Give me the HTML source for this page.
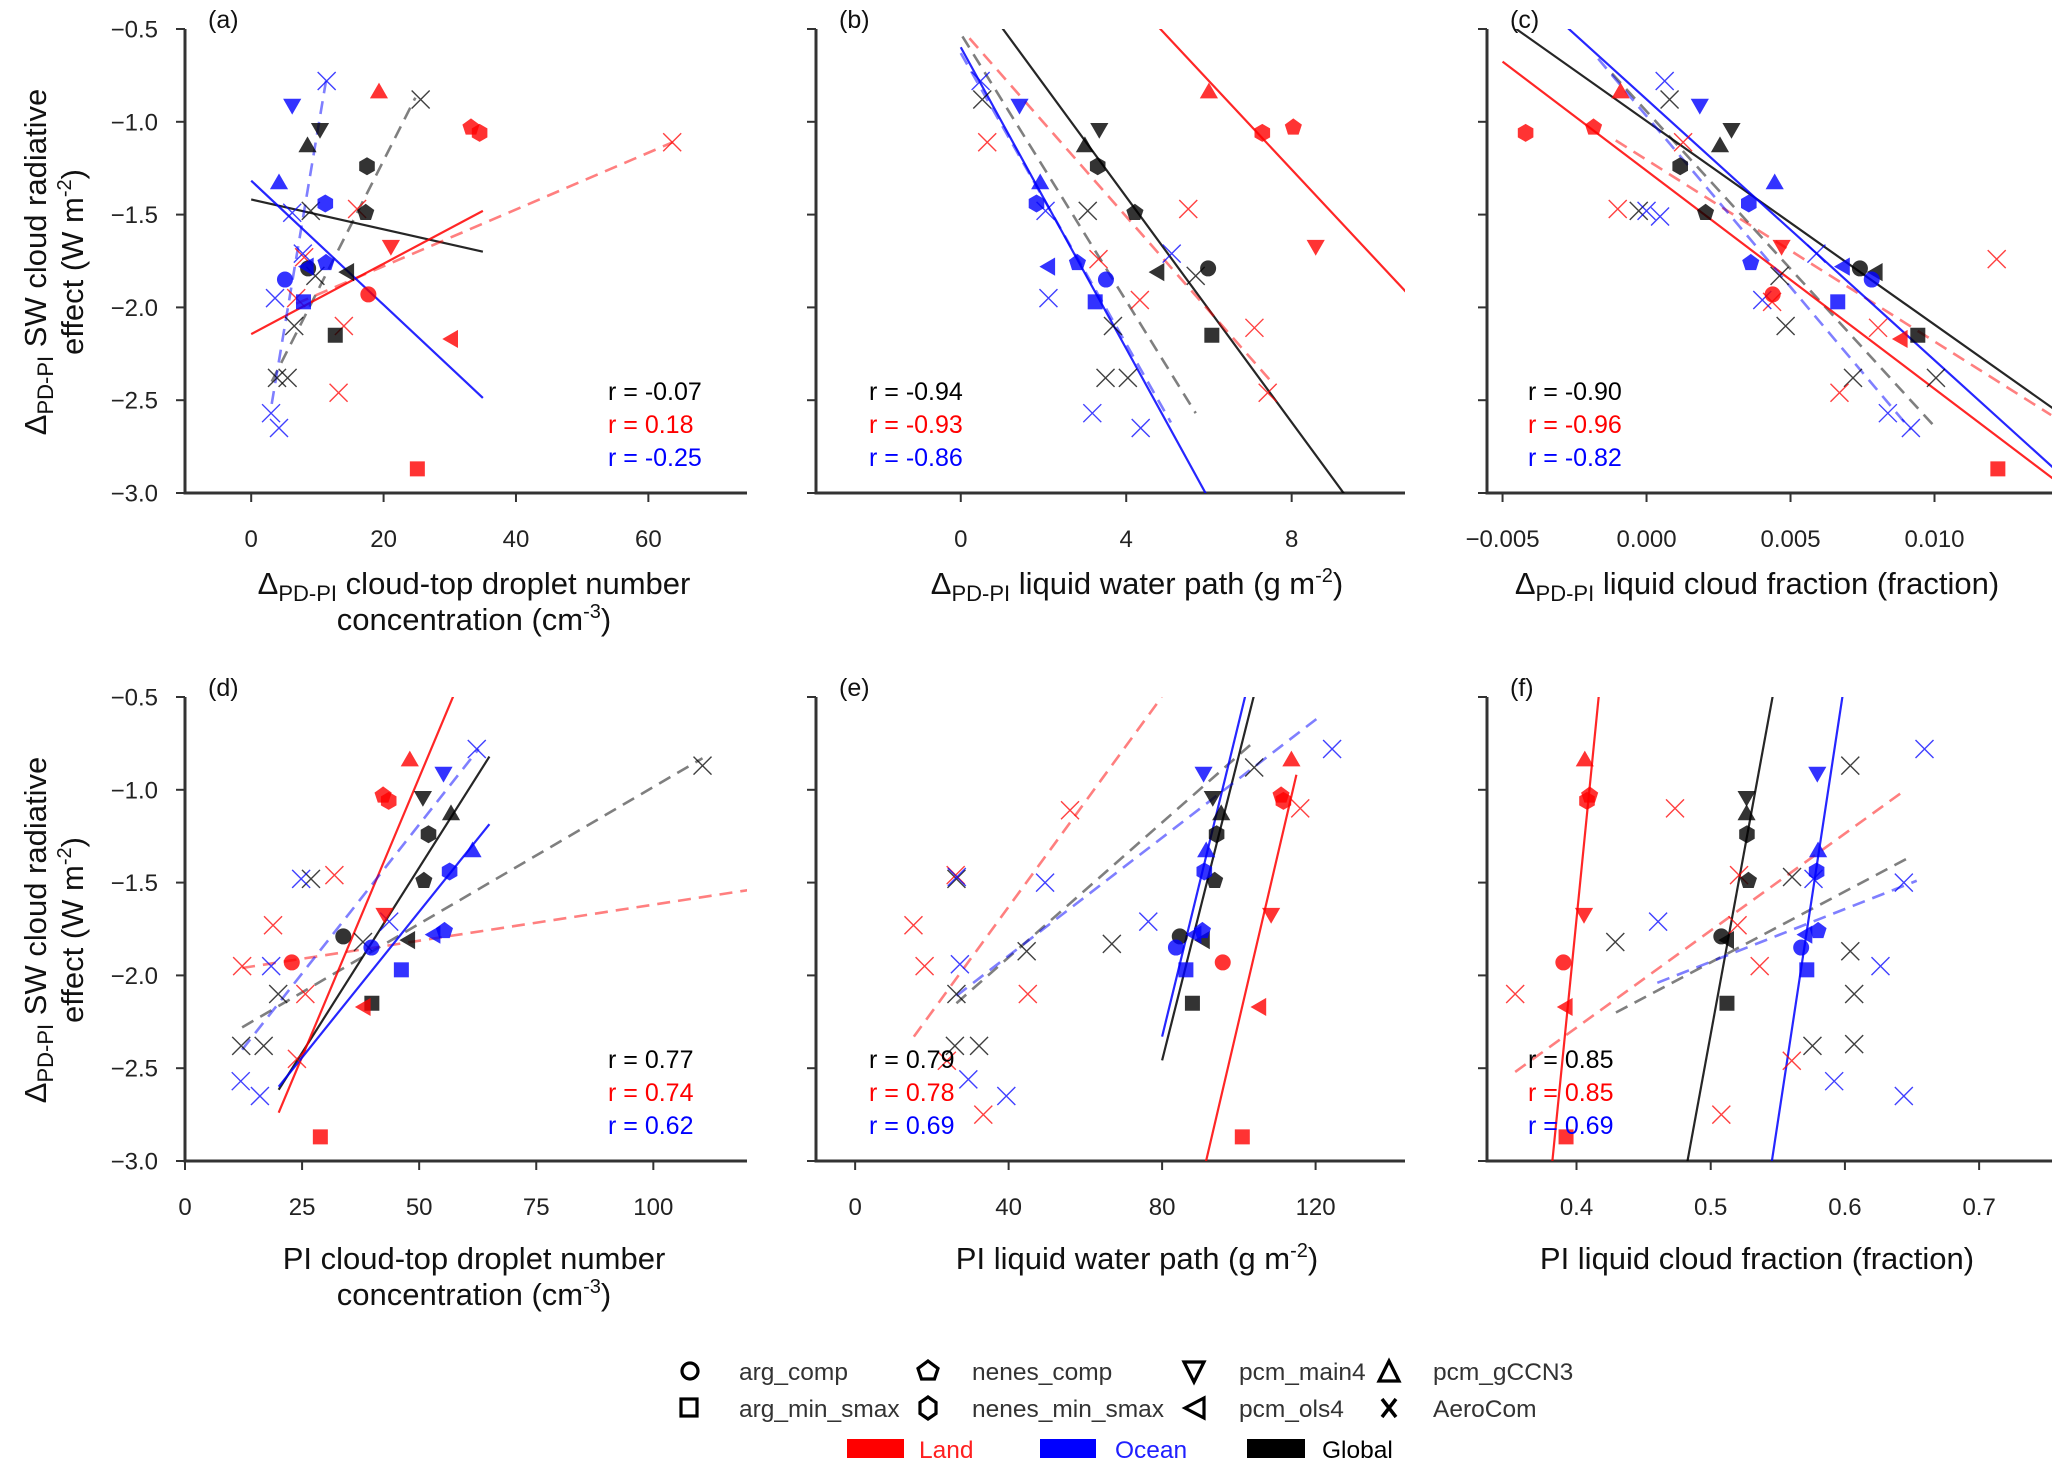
<!DOCTYPE html>
<html><head><meta charset="utf-8"><title>SW cloud radiative effect scatter panels</title>
<style>
html,body{margin:0;padding:0;background:#fff;overflow:hidden;width:2067px;height:1474px;}
svg{display:block;font-family:"Liberation Sans",Arial,sans-serif;}
</style></head>
<body>
<svg id="fig" xmlns="http://www.w3.org/2000/svg" width="2067" height="1474" viewBox="0 0 2067 1474"></svg>
<script>
// ---- shared data ----
const modelNames = ['arg_comp','arg_min_smax','nenes_comp','nenes_min_smax','pcm_main4','pcm_ols4','pcm_gCCN3'];
const modelShapes = ['circle','square','pentagon','hexagon','tridown','trileft','triup'];
const yGlobal = [-1.79,-2.15,-1.49,-1.24,-1.04,-1.81,-1.13];
const yLand   = [-1.93,-2.87,-1.03,-1.06,-1.67,-2.17,-0.84];
const yOcean  = [-1.85,-1.97,-1.76,-1.44,-0.91,-1.78,-1.33];

// panel a
const aGx = [8.6,12.7,17.3,17.5,10.4,14.6,8.5];
const aLx = [17.7,25.1,33.2,34.5,21.1,30.3,19.3];
const aOx = [5.1,7.9,11.3,11.2,6.2,8.5,4.2];
const aAeroGx = [25.6,9.0,9.7,6.5,3.9,5.5];
const aAeroGy = [-0.88,-1.48,-1.83,-2.1,-2.38,-2.38];
const aAeroLx = [63.6,16,8,6.8,14,13.2];
const aAeroLy = [-1.11,-1.47,-1.73,-1.95,-2.1,-2.46];
const aAeroOx = [11.4,6.2,7.8,3.6,3.0,4.2];
const aAeroOy = [-0.78,-1.49,-1.71,-1.95,-2.57,-2.65];
// AeroCom fit-line endpoints [x0,y0,x1,y1]
const aFitG = [3.1,-2.4,24.8,-0.87];
const aFitL = [6.8,-1.98,63.7,-1.11];
const aFitO = [3.1,-2.52,11.3,-0.78];
// panel b
const bGx = [5.98,6.07,4.21,3.31,3.35,4.77,3.0];
const bLx = [11.2,14.5,8.04,7.29,8.58,12.0,6.0];
const bOx = [3.51,3.25,2.82,1.83,1.42,2.13,1.92];
const bAeroGx = [0.52,3.07,5.68,3.68,3.5,4.04];
const bAeroGy = [-0.88,-1.48,-1.83,-2.1,-2.38,-2.38];
const bAeroLx = [0.64,5.5,3.33,4.33,7.1,7.42];
const bAeroLy = [-1.11,-1.47,-1.74,-1.96,-2.11,-2.46];
const bAeroOx = [0.48,2.05,5.1,2.12,3.18,4.35];
const bAeroOy = [-0.78,-1.48,-1.71,-1.95,-2.57,-2.65];
const bFitG = [0.04,-0.54,5.68,-2.57];
const bFitL = [0.21,-0.55,7.47,-2.39];
const bFitO = [0.0,-0.63,5.08,-2.62];
// panel c
const cGx = [0.00741,0.00942,0.00205,0.00117,0.00295,0.00798,0.00255];
const cLx = [0.00438,0.0122,-0.00184,-0.0042,0.00469,0.00885,-0.0009];
const cOx = [0.00782,0.00664,0.00362,0.00355,0.00185,0.00684,0.00445];
const cAeroGx = [0.0008,-0.00027,0.00462,0.00483,0.00717,0.01005];
const cAeroGy = [-0.88,-1.48,-1.83,-2.1,-2.38,-2.38];
const cAeroLx = [0.00127,-0.001,0.01216,0.00436,0.00804,0.0067];
const cAeroLy = [-1.11,-1.47,-1.74,-1.97,-2.11,-2.46];
const cAeroOx = [0.00063,0.0,0.00047,0.0059,0.00402,0.00838,0.00918];
const cAeroOy = [-0.78,-1.48,-1.51,-1.71,-1.96,-2.57,-2.65];
const cFitG = [-0.0012,-0.74,0.01005,-2.65];
const cFitL = [-0.00107,-1.10,0.01405,-2.58];
const cFitO = [-0.00168,-0.66,0.00918,-2.66];
// panel d
const dGx = [33.8,39.9,51,52,50.8,47.8,56.8];
const dLx = [22.8,28.9,42.3,43.5,42.6,38.3,48];
const dOx = [39.8,46.2,55.4,56.5,55.2,53.2,61.4];
const dAeroGx = [110.5,26.9,38,19.9,12,16.8];
const dAeroGy = [-0.87,-1.48,-1.82,-2.1,-2.38,-2.38];
const dAeroLx = [140,31.9,18.8,12.2,25.7,23.9];
const dAeroLy = [-1.11,-1.46,-1.73,-1.95,-2.1,-2.45];
const dAeroOx = [62.3,24.8,43.6,18.4,11.9,16];
const dAeroOy = [-0.78,-1.48,-1.71,-1.95,-2.57,-2.65];
const dFitG = [12.2,-2.28,110.5,-0.83];
const dFitL = [12.2,-1.96,122.9,-1.53];
const dFitO = [12.2,-2.40,62.7,-0.78];
// panel e
const eGx = [84.6,87.9,93.7,94.2,93.2,90.8,95.4];
const eLx = [95.8,100.9,111,111.6,108.4,105.5,113.7];
const eOx = [83.6,86.2,90.5,91,90.8,88.6,91.5];
const eAeroGx = [104,26.4,66.9,44.7,26.4,26,32.3];
const eAeroGy = [-0.88,-1.48,-1.83,-1.87,-2.1,-2.38,-2.38];
const eAeroLx = [116,56,26.2,15.2,18.1,45,23.9,33.4];
const eAeroLy = [-1.1,-1.11,-1.46,-1.73,-1.95,-2.1,-2.46,-2.75];
const eAeroOx = [124.3,26.5,49.5,76.4,27.3,29.5,39.4];
const eAeroOy = [-0.78,-1.47,-1.5,-1.71,-1.94,-2.56,-2.65];
const eFitG = [26.4,-2.15,104,-0.74];
const eFitL = [15.3,-2.33,79.9,-0.5];
const eFitO = [26.4,-2.11,121.4,-0.60];
// panel f
const fGx = [0.5079,0.5121,0.5281,0.527,0.5267,0.5127,0.5267];
const fLx = [0.3902,0.3922,0.4098,0.4078,0.4056,0.3924,0.4062];
const fOx = [0.5674,0.5716,0.58,0.5789,0.5794,0.571,0.58];
const fAeroGx = [0.604,0.5606,0.4289,0.604,0.6069,0.5758,0.6069];
const fAeroGy = [-0.87,-1.47,-1.82,-1.87,-2.1,-2.38,-2.37];
const fAeroLx = [0.4734,0.5211,0.52,0.5365,0.3543,0.5604,0.5079];
const fAeroLy = [-1.1,-1.46,-1.73,-1.95,-2.1,-2.46,-2.75];
const fAeroOx = [0.6593,0.5766,0.6439,0.4608,0.6265,0.592,0.6439];
const fAeroOy = [-0.78,-1.48,-1.5,-1.71,-1.95,-2.57,-2.65];
const fFitG = [0.4294,-2.20,0.6465,-1.37];
const fFitL = [0.3543,-2.52,0.6451,-1.0];
const fFitO = [0.4602,-2.04,0.6535,-1.49];

// tick labels & r labels
const yTicks = [-0.5,-1.0,-1.5,-2.0,-2.5,-3.0];
const yTickLabels = ['\u22120.5','\u22121.0','\u22121.5','\u22122.0','\u22122.5','\u22123.0'];
const aTicks = [0,20,40,60];       const aTickLabels = ['0','20','40','60'];
const bTicks = [0,4,8];            const bTickLabels = ['0','4','8'];
const cTicks = [-0.005,0,0.005,0.010]; const cTickLabels = ['\u22120.005','0.000','0.005','0.010'];
const dTicks = [0,25,50,75,100];   const dTickLabels = ['0','25','50','75','100'];
const eTicks = [0,40,80,120];      const eTickLabels = ['0','40','80','120'];
const fTicks = [0.4,0.5,0.6,0.7];  const fTickLabels = ['0.4','0.5','0.6','0.7'];
const aR = ['r = -0.07','r = 0.18','r = -0.25'];
const bR = ['r = -0.94','r = -0.93','r = -0.86'];
const cR = ['r = -0.90','r = -0.96','r = -0.82'];
const dR = ['r = 0.77','r = 0.74','r = 0.62'];
const eR = ['r = 0.79','r = 0.78','r = 0.69'];
const fR = ['r = 0.85','r = 0.85','r = 0.69'];

// ---- layout (pixels, not data) ----
const NS = 'http://www.w3.org/2000/svg';
const svg = document.getElementById('fig');
const COL = {G:'#000000', L:'#ff0000', O:'#0000ff'};
const panels = [
 {id:'a', L:185, R:747, T:29, B:493, xmin:-10, xmax:74.9, step:5,
  G:aGx,Lx:aLx,O:aOx, aG:[aAeroGx,aAeroGy], aL:[aAeroLx,aAeroLy], aO:[aAeroOx,aAeroOy], fit:{G:aFitG,L:aFitL,O:aFitO}, ticks:aTicks, tl:aTickLabels, r:aR, rx:608},
 {id:'b', L:816, R:1405, T:29, B:493, xmin:-3.5, xmax:10.74, step:2,
  G:bGx,Lx:bLx,O:bOx, aG:[bAeroGx,bAeroGy], aL:[bAeroLx,bAeroLy], aO:[bAeroOx,bAeroOy], fit:{G:bFitG,L:bFitL,O:bFitO}, ticks:bTicks, tl:bTickLabels, r:bR, rx:869},
 {id:'c', L:1487, R:2052, T:29, B:493, xmin:-0.00554, xmax:0.01408, step:0.005,
  G:cGx,Lx:cLx,O:cOx, aG:[cAeroGx,cAeroGy], aL:[cAeroLx,cAeroLy], aO:[cAeroOx,cAeroOy], fit:{G:cFitG,L:cFitL,O:cFitO}, ticks:cTicks, tl:cTickLabels, r:cR, rx:1528},
 {id:'d', L:185, R:747, T:697, B:1161, xmin:0, xmax:120, step:5,
  G:dGx,Lx:dLx,O:dOx, aG:[dAeroGx,dAeroGy], aL:[dAeroLx,dAeroLy], aO:[dAeroOx,dAeroOy], fit:{G:dFitG,L:dFitL,O:dFitO}, ticks:dTicks, tl:dTickLabels, r:dR, rx:608},
 {id:'e', L:816, R:1405, T:697, B:1161, xmin:-10.2, xmax:143.3, step:5,
  G:eGx,Lx:eLx,O:eOx, aG:[eAeroGx,eAeroGy], aL:[eAeroLx,eAeroLy], aO:[eAeroOx,eAeroOy], fit:{G:eFitG,L:eFitL,O:eFitO}, ticks:eTicks, tl:eTickLabels, r:eR, rx:869},
 {id:'f', L:1487, R:2052, T:697, B:1161, xmin:0.3333, xmax:0.7543, step:0.05,
  G:fGx,Lx:fLx,O:fOx, aG:[fAeroGx,fAeroGy], aL:[fAeroLx,fAeroLy], aO:[fAeroOx,fAeroOy], fit:{G:fFitG,L:fFitL,O:fFitO}, ticks:fTicks, tl:fTickLabels, r:fR, rx:1528}
];
const YMIN=-3.0, YMAX=-0.5;

function mk(tag, attrs, parent){
  const e=document.createElementNS(NS,tag);
  for(const k in attrs) e.setAttribute(k,attrs[k]);
  (parent||svg).appendChild(e); return e;
}
function polyPts(cx,cy,r,n,rot){
  const p=[]; for(let i=0;i<n;i++){const a=rot+i*2*Math.PI/n; p.push((cx+r*Math.cos(a)).toFixed(1)+','+(cy+r*Math.sin(a)).toFixed(1));} return p.join(' ');
}
function marker(shape,cx,cy,fill,parent){
  let e;
  const st = {fill:fill, stroke:'none'};
  if(shape==='circle') e=mk('circle',Object.assign({cx:cx,cy:cy,r:8},st),parent);
  else if(shape==='square') e=mk('rect',Object.assign({x:cx-7.5,y:cy-7.5,width:15,height:15},st),parent);
  else if(shape==='pentagon') e=mk('polygon',Object.assign({points:polyPts(cx,cy,9,5,-Math.PI/2)},st),parent);
  else if(shape==='hexagon') e=mk('polygon',Object.assign({points:polyPts(cx,cy,9,6,-Math.PI/2)},st),parent);
  else if(shape==='tridown') e=mk('polygon',Object.assign({points:polyPts(cx,cy-1,10.5,3,Math.PI/2)},st),parent);
  else if(shape==='triup') e=mk('polygon',Object.assign({points:polyPts(cx,cy+1,10.5,3,-Math.PI/2)},st),parent);
  else if(shape==='trileft') e=mk('polygon',Object.assign({points:polyPts(cx+1,cy,10.5,3,Math.PI)},st),parent);
  return e;
}
function ols(xs,ys){
  const n=xs.length; let mx=0,my=0; for(let i=0;i<n;i++){mx+=xs[i];my+=ys[i];} mx/=n; my/=n;
  let sxy=0,sxx=0; for(let i=0;i<n;i++){sxy+=(xs[i]-mx)*(ys[i]-my); sxx+=(xs[i]-mx)*(xs[i]-mx);}
  const b=sxy/sxx; return {b:b,a:my-b*mx};
}
function txt(s,x,y,attrs,parent){const e=mk('text',Object.assign({x:x,y:y,'font-size':24,fill:'#222'},attrs||{}),parent); e.textContent=s; return e;}

const defs=mk('defs',{});
panels.forEach(P=>{
  const sx=v=>P.L+(v-P.xmin)/(P.xmax-P.xmin)*(P.R-P.L);
  const sy=v=>P.B-(v-YMIN)/(YMAX-YMIN)*(P.B-P.T);
  const g=mk('g',{});
  
  
  const cp=mk('clipPath',{id:'clip-'+P.id},defs);
  mk('rect',{x:P.L,y:P.T,width:P.R-P.L,height:P.B-P.T},cp);
  const ax=mk('g',{},g);
  
  
  mk('line',{x1:P.L,y1:P.T,x2:P.L,y2:P.B+1.5,stroke:'#333','stroke-width':3},ax);
  mk('line',{x1:P.L-1.5,y1:P.B,x2:P.R,y2:P.B,stroke:'#333','stroke-width':3},ax);
  yTicks.forEach((t,i)=>{
    mk('line',{x1:P.L-9,y1:sy(t),x2:P.L,y2:sy(t),stroke:'#333','stroke-width':2},ax);
    if(P.id==='a'||P.id==='d'){
      const tl=txt(yTickLabels[i],158,sy(t)+8.5,{'text-anchor':'end'},ax);
      
      
    }
  });
  P.ticks.forEach((t,i)=>{
    mk('line',{x1:sx(t),y1:P.B,x2:sx(t),y2:P.B+9,stroke:'#333','stroke-width':2},ax);
    const tl=txt(P.tl[i],sx(t),P.B+54,{'text-anchor':'middle'},ax);
    
    
  });
  const pl=txt('('+P.id+')',P.L+23,P.T-1,{'font-size':25,fill:'#111'},g);
  
  

  const plot=mk('g',{'clip-path':'url(#clip-'+P.id+')'},g);
  
  
  const regions=[['G',P.G,yGlobal,P.aG],['L',P.Lx,yLand,P.aL],['O',P.O,yOcean,P.aO]];
  regions.forEach(([k,xs,ys])=>{
    const f=ols(xs,ys);
    const all=[].concat(P.G,P.Lx,P.O);
    const lo=Math.floor(Math.min.apply(null,all)/P.step+1e-9)*P.step;
    const hi=Math.ceil(Math.max.apply(null,all)/P.step-1e-9)*P.step;
    const ln=mk('line',{x1:sx(lo),y1:sy(f.a+f.b*lo),x2:sx(hi),y2:sy(f.a+f.b*hi),stroke:COL[k],'stroke-width':2.2,'stroke-opacity':0.85},plot);
    
    
    const fd=P.fit[k];
    const dl=mk('line',{x1:sx(fd[0]),y1:sy(fd[1]),x2:sx(fd[2]),y2:sy(fd[3]),stroke:COL[k],'stroke-width':2.6,'stroke-opacity':0.5,'stroke-dasharray':'13,8'},plot);
    
    
  });
  regions.forEach(([k,xs,ys,aero])=>{
    aero[0].forEach((xv,i)=>{
      const cx=sx(xv), cy=sy(aero[1][i]), s=9;
      const xm=mk('path',{d:`M${cx-s},${cy-s}L${cx+s},${cy+s}M${cx-s},${cy+s}L${cx+s},${cy-s}`,stroke:COL[k],'stroke-width':1.4,'stroke-opacity':0.75,fill:'none'},plot);
      
      
    });
  });
  regions.forEach(([k,xs,ys])=>{
    xs.forEach((xv,i)=>{
      const m=marker(modelShapes[i],sx(xv),sy(ys[i]),COL[k],plot);
      m.setAttribute('fill-opacity',0.8);
      
      
    });
  });
  const rc=['#000','#ff0000','#0000ff'];
  P.r.forEach((s,i)=>{
    const t=txt(s,P.rx,P.T+371+i*33,{'font-size':25,fill:rc[i]},g);
    
    
  });
});

svg.insertAdjacentHTML('beforeend',`
<g font-size="31" fill="#111" text-anchor="middle">
 <text transform="translate(46,262) rotate(-90)">Δ<tspan font-size="22" dy="7">PD-PI</tspan><tspan dy="-7"> SW cloud radiative</tspan></text>
 <text transform="translate(83,262) rotate(-90)">effect (W m<tspan font-size="20" dy="-12">-2</tspan><tspan dy="12">)</tspan></text>
</g>
<g font-size="31" fill="#111" text-anchor="middle">
 <text transform="translate(46,930) rotate(-90)">Δ<tspan font-size="22" dy="7">PD-PI</tspan><tspan dy="-7"> SW cloud radiative</tspan></text>
 <text transform="translate(83,930) rotate(-90)">effect (W m<tspan font-size="20" dy="-12">-2</tspan><tspan dy="12">)</tspan></text>
</g>
<g font-size="31" fill="#111" text-anchor="middle">
 <text x="474" y="594">Δ<tspan font-size="22" dy="7">PD-PI</tspan><tspan dy="-7"> cloud-top droplet number</tspan></text>
 <text x="474" y="630">concentration (cm<tspan font-size="20" dy="-12">-3</tspan><tspan dy="12">)</tspan></text>
 <text x="1137" y="594">Δ<tspan font-size="22" dy="7">PD-PI</tspan><tspan dy="-7"> liquid water path (g m</tspan><tspan font-size="20" dy="-12">-2</tspan><tspan dy="12">)</tspan></text>
 <text x="1757" y="594">Δ<tspan font-size="22" dy="7">PD-PI</tspan><tspan dy="-7"> liquid cloud fraction (fraction)</tspan></text>
 <text x="474" y="1269">PI cloud-top droplet number</text>
 <text x="474" y="1305">concentration (cm<tspan font-size="20" dy="-12">-3</tspan><tspan dy="12">)</tspan></text>
 <text x="1137" y="1269">PI liquid water path (g m<tspan font-size="20" dy="-12">-2</tspan><tspan dy="12">)</tspan></text>
 <text x="1757" y="1269">PI liquid cloud fraction (fraction)</text>
</g>
<g font-size="24.5" fill="#333">
 <circle cx="690" cy="1371" r="8" fill="#fff" stroke="#000" stroke-width="3.2"/>
 <text x="739" y="1380">arg_comp</text>
 <polygon points="928,1361 938,1368.5 934.5,1379 921.5,1379 918,1368.5" fill="#fff" stroke="#000" stroke-width="3.2"/>
 <text x="972" y="1380">nenes_comp</text>
 <polygon points="1184,1362 1204,1362 1194,1382" fill="#fff" stroke="#000" stroke-width="3.2"/>
 <text x="1239" y="1380">pcm_main4</text>
 <polygon points="1379,1381 1399,1381 1389,1361" fill="#fff" stroke="#000" stroke-width="3.2"/>
 <text x="1433" y="1380">pcm_gCCN3</text>
 <rect x="681" y="1399" width="16" height="17" fill="#fff" stroke="#000" stroke-width="3.2"/>
 <text x="739" y="1417">arg_min_smax</text>
 <polygon points="928,1397 936,1402.5 936,1413.5 928,1419 920,1413.5 920,1402.5" fill="#fff" stroke="#000" stroke-width="3.2"/>
 <text x="972" y="1417">nenes_min_smax</text>
 <polygon points="1185,1408 1204,1398 1204,1418" fill="#fff" stroke="#000" stroke-width="3.2"/>
 <text x="1239" y="1417">pcm_ols4</text>
 <path d="M1382,1399L1396,1417M1382,1417L1396,1399" stroke="#000" stroke-width="3.5"/>
 <text x="1433" y="1417">AeroCom</text>
 <rect x="847" y="1439" width="57" height="19" fill="#ff0000"/>
 <text x="919" y="1458" fill="#ff2020">Land</text>
 <rect x="1040" y="1439" width="56" height="19" fill="#0000ff"/>
 <text x="1115" y="1458" fill="#2020ff">Ocean</text>
 <rect x="1247" y="1439" width="58" height="19" fill="#000"/>
 <text x="1322" y="1458" fill="#000">Global</text>
</g>`);
</script>
</body></html>
